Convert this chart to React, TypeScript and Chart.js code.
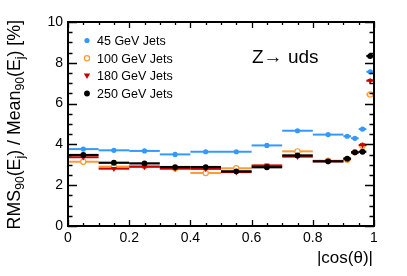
import { useEffect, useRef } from 'react';
import { Chart, registerables } from 'chart.js';
Chart.register(...registerables);

// ---- data ----
const binLow = [0, 0.1, 0.2, 0.3, 0.4, 0.5, 0.6, 0.7, 0.8, 0.9, 0.925, 0.95, 0.975];
const binHigh = [0.1, 0.2, 0.3, 0.4, 0.5, 0.6, 0.7, 0.8, 0.9, 0.925, 0.95, 0.975, 1.0];

const jets45 = [3.77, 3.71, 3.68, 3.51, 3.64, 3.64, 3.95, 4.67, 4.48, 4.40, 4.30, 4.75, 7.56];
const jets100 = [3.15, 2.91, 2.94, 2.83, 2.60, 2.83, 2.93, 3.66, 3.20, 3.25, 3.62, 3.93, 6.45];
const jets180 = [3.37, 2.81, 2.90, 2.81, 2.80, 2.64, 2.97, 3.40, 3.17, 3.30, 3.60, 3.97, 7.12];
const jets250 = [3.48, 3.10, 3.07, 2.89, 2.89, 2.68, 2.88, 3.46, 3.17, 3.30, 3.61, 3.64, 8.33];

const err45 = [0.03, 0.03, 0.03, 0.03, 0.03, 0.03, 0.03, 0.03, 0.03, 0.06, 0.06, 0.08, 0.08];
const err100 = [0.03, 0.03, 0.03, 0.03, 0.03, 0.03, 0.03, 0.03, 0.03, 0.08, 0.08, 0.1, 0.1];
const err180 = [0.03, 0.03, 0.03, 0.03, 0.03, 0.03, 0.03, 0.03, 0.03, 0.08, 0.08, 0.12, 0.12];
const err250 = [0.03, 0.03, 0.03, 0.03, 0.03, 0.03, 0.03, 0.03, 0.03, 0.08, 0.08, 0.1, 0.1];

const seriesLabels = ['45 GeV Jets', '100 GeV Jets', '180 GeV Jets', '250 GeV Jets'];
const seriesColors = ['#3399ff', '#ff9933', '#cc0000', '#000000'];
const xTicks = [0, 0.2, 0.4, 0.6, 0.8, 1];
const yTicks = [0, 2, 4, 6, 8, 10];
const processLabel = 'Z\u2192 uds';
const xTitle = '|cos(\u03b8)|';

const FONT = '"Liberation Sans", Arial, Helvetica, sans-serif';

const seriesVals = [jets45, jets100, jets180, jets250];
const seriesErrs = [err45, err100, err180, err250];

function drawMarker(ctx: CanvasRenderingContext2D, idx: number, x: number, y: number) {
  const c = seriesColors[idx];
  ctx.save();
  if (idx === 1) {
    ctx.beginPath();
    ctx.arc(x, y, 2.6, 0, Math.PI * 2);
    ctx.fillStyle = '#fff';
    ctx.fill();
    ctx.lineWidth = 1.2;
    ctx.strokeStyle = c;
    ctx.stroke();
  } else if (idx === 2) {
    ctx.beginPath();
    ctx.moveTo(x - 3.2, y - 2.2);
    ctx.lineTo(x + 3.2, y - 2.2);
    ctx.lineTo(x, y + 3.2);
    ctx.closePath();
    ctx.fillStyle = c;
    ctx.fill();
  } else {
    ctx.beginPath();
    ctx.arc(x, y, idx === 3 ? 2.9 : 2.6, 0, Math.PI * 2);
    ctx.fillStyle = c;
    ctx.fill();
  }
  ctx.restore();
}

const rootPlugin = {
  id: 'rootStyle',
  beforeDatasetDraw(chart: any, args: any) {
    const i = args.index;
    const ctx = chart.ctx as CanvasRenderingContext2D;
    const xs = chart.scales.x;
    const ys = chart.scales.y;
    const vals = seriesVals[i];
    const errs = seriesErrs[i];
    ctx.save();
    ctx.strokeStyle = seriesColors[i];
    for (let k = 0; k < vals.length; k++) {
      const y = ys.getPixelForValue(vals[k]);
      const x1 = xs.getPixelForValue(binLow[k]);
      const x2 = xs.getPixelForValue(binHigh[k]);
      const xc = xs.getPixelForValue((binLow[k] + binHigh[k]) / 2);
      ctx.lineWidth = i === 3 ? 2.2 : 2;
      ctx.beginPath();
      ctx.moveTo(x1, y);
      ctx.lineTo(x2, y);
      ctx.stroke();
      ctx.beginPath();
      ctx.lineWidth = 1.5;
      ctx.moveTo(xc, ys.getPixelForValue(vals[k] - errs[k]));
      ctx.lineTo(xc, ys.getPixelForValue(vals[k] + errs[k]));
      ctx.stroke();
    }
    ctx.restore();
  },
  afterDatasetsDraw(chart: any) {
    const ctx = chart.ctx as CanvasRenderingContext2D;
    const xs = chart.scales.x;
    const ys = chart.scales.y;
    const L = xs.left, R = xs.right, T = ys.top, B = ys.bottom;
    ctx.save();
    // ticks
    ctx.strokeStyle = '#000';
    ctx.lineWidth = 1.3;
    ctx.beginPath();
    for (let n = 0; n <= 20; n++) {
      const v = n * 0.5;
      const y = Math.round(ys.getPixelForValue(v)) + 0.5;
      const len = n % 4 === 0 ? 9 : 4.5;
      ctx.moveTo(L, y); ctx.lineTo(L + len, y);
      ctx.moveTo(R, y); ctx.lineTo(R - len, y);
    }
    for (let n = 0; n <= 20; n++) {
      const v = n * 0.05;
      const x = Math.round(xs.getPixelForValue(v)) + 0.5;
      const len = n % 4 === 0 ? 6 : 3;
      ctx.moveTo(x, B); ctx.lineTo(x, B - len);
      ctx.moveTo(x, T); ctx.lineTo(x, T + len);
    }
    ctx.stroke();
    // frame
    ctx.lineWidth = 2;
    ctx.strokeRect(L, T, R - L, B - T);

    // legend
    ctx.fillStyle = '#000';
    ctx.font = `12.5px ${FONT}`;
    ctx.textBaseline = 'alphabetic';
    ctx.textAlign = 'left';
    const base = [45, 62.7, 80.3, 98];
    for (let i = 0; i < seriesLabels.length; i++) {
      drawMarker(ctx, i, 87, base[i] - 4.5);
      ctx.fillStyle = '#000';
      ctx.fillText(seriesLabels[i], 97, base[i]);
    }

    // process label
    ctx.font = `19px ${FONT}`;
    ctx.fillText(processLabel, 252, 63);

    // x title
    ctx.font = `17px ${FONT}`;
    ctx.textAlign = 'right';
    ctx.fillText(xTitle, 373, 263);

    // y title with subscripts
    const big = `17.8px ${FONT}`;
    const small = `12.2px ${FONT}`;
    const parts: [string, boolean][] = [
      ['RMS', false], ['90', true], ['(E', false], ['j', true], [') / Mean', false],
      ['90', true], ['(E', false], ['j', true], [') [%]', false],
    ];
    let total = 0;
    for (const [t, sub] of parts) {
      ctx.font = sub ? small : big;
      total += ctx.measureText(t).width;
    }
    ctx.translate(20, 20 + total);
    ctx.rotate(-Math.PI / 2);
    ctx.textAlign = 'left';
    let px = 0;
    for (const [t, sub] of parts) {
      ctx.font = sub ? small : big;
      ctx.fillText(t, px, sub ? 4 : 0);
      px += ctx.measureText(t).width;
    }
    ctx.restore();
  },
};

export default function App() {
  const ref = useRef<HTMLCanvasElement>(null);
  useEffect(() => {
    if (!ref.current) return;
    const mk = (i: number) =>
      seriesVals[i].map((v, k) => ({ x: (binLow[k] + binHigh[k]) / 2, y: v }));
    const chart = new Chart(ref.current, {
      type: 'scatter',
      data: {
        datasets: [
          {
            label: seriesLabels[0], data: mk(0), order: 3,
            pointStyle: 'circle', pointRadius: 2.6, backgroundColor: seriesColors[0],
            borderColor: seriesColors[0], borderWidth: 0,
          },
          {
            label: seriesLabels[1], data: mk(1), order: 2,
            pointStyle: 'circle', pointRadius: 2.6, backgroundColor: '#ffffff',
            borderColor: seriesColors[1], borderWidth: 1.2,
          },
          {
            label: seriesLabels[2], data: mk(2), order: 1,
            pointStyle: 'triangle', rotation: 180, pointRadius: 3.3, backgroundColor: seriesColors[2],
            borderColor: seriesColors[2], borderWidth: 0,
          },
          {
            label: seriesLabels[3], data: mk(3), order: 0,
            pointStyle: 'circle', pointRadius: 2.9, backgroundColor: seriesColors[3],
            borderColor: seriesColors[3], borderWidth: 0,
          },
        ],
      },
      options: {
        animation: false,
        responsive: false,
        events: [],
        layout: { padding: { left: 0, right: 33, top: 22, bottom: 0 } },
        plugins: { legend: { display: false }, tooltip: { enabled: false } },
        scales: {
          x: {
            type: 'linear', min: 0, max: 1,
            grid: { display: false, drawTicks: false },
            border: { display: false },
            afterFit: (s: any) => { s.height = 50; },
            afterBuildTicks: (s: any) => { s.ticks = xTicks.map((v) => ({ value: v })); },
            ticks: {
              color: '#000', font: { family: FONT, size: 14 }, padding: 4,
              maxRotation: 0, autoSkip: false,
              callback: (v: any) => String(v),
            },
          },
          y: {
            type: 'linear', min: 0, max: 10,
            grid: { display: false, drawTicks: false },
            border: { display: false },
            afterFit: (s: any) => { s.width = 68; },
            afterBuildTicks: (s: any) => { s.ticks = yTicks.map((v) => ({ value: v })); },
            ticks: {
              color: '#000', font: { family: FONT, size: 14 }, padding: 5,
              autoSkip: false,
              callback: (v: any) => String(v),
            },
          },
        },
      },
      plugins: [rootPlugin],
    });
    return () => chart.destroy();
  }, []);
  return (
    <div style={{ position: 'fixed', left: 0, top: 0, width: 407, height: 276, background: '#fff' }}>
      <canvas ref={ref} width={407} height={276} style={{ width: 407, height: 276, display: 'block' }} />
    </div>
  );
}
